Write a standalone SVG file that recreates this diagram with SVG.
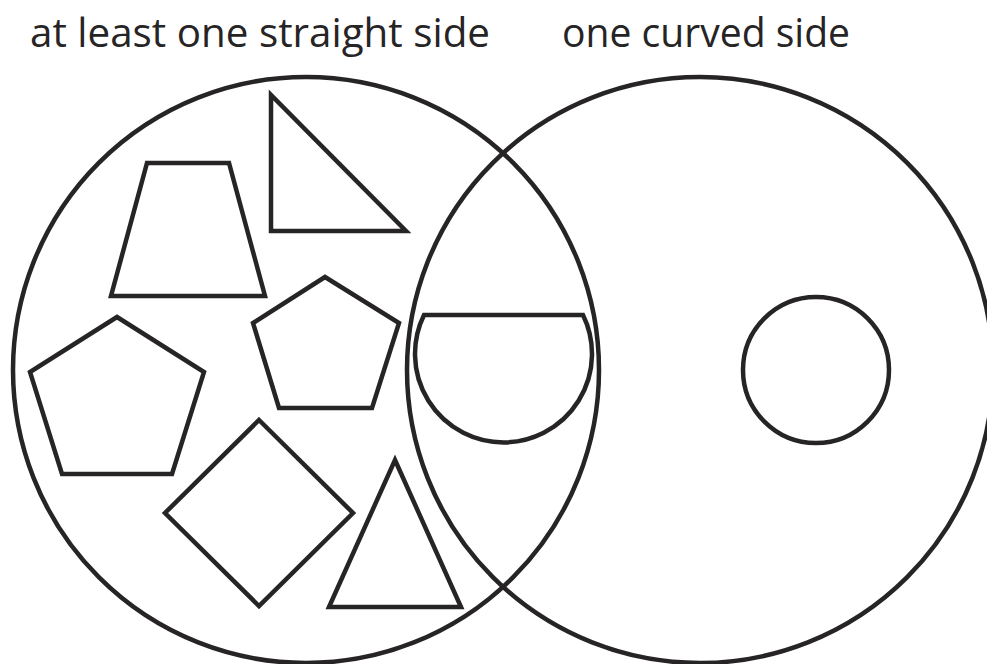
<svg xmlns="http://www.w3.org/2000/svg" width="987" height="664" viewBox="0 0 987 664">
  <style>
    .ln { fill: none; stroke: #262425; stroke-width: 4.5; stroke-linejoin: miter; }
    .lbl { font-family: "Open Sans", "DejaVu Sans", sans-serif; font-size: 41px; fill: #262425; }
  </style>
  <rect width="987" height="664" fill="#ffffff"/>
  <g id="labels">
    <text class="lbl" x="30" y="47" textLength="460" lengthAdjust="spacingAndGlyphs">at least one straight side</text>
    <text class="lbl" x="562" y="47" textLength="288" lengthAdjust="spacingAndGlyphs">one curved side</text>
  </g>
  <g id="set-straight">
    <circle class="ln" cx="306" cy="370" r="293"/>
  </g>
  <g id="set-curved">
    <circle class="ln" cx="700" cy="370" r="293"/>
  </g>
  <g id="trapezoid">
    <polygon class="ln" points="147,163 229,163 265,296 111,296"/>
  </g>
  <g id="right-triangle">
    <polygon class="ln" points="271,95 271,231 406,231"/>
  </g>
  <g id="pentagon-middle">
    <polygon class="ln" points="325,277 399,323 372,408 279,408 253,323"/>
  </g>
  <g id="pentagon-left">
    <polygon class="ln" points="117,317 204,372 172,474 62,474 30,372"/>
  </g>
  <g id="square">
    <polygon class="ln" points="259,420 353,513 259,606 165,513"/>
  </g>
  <g id="isosceles-triangle">
    <polygon class="ln" points="395,460 461,607 329,607"/>
  </g>
  <g id="semicircle">
    <path class="ln" d="M 424,315 L 583,315 A 88.5,88.5 0 1 1 424,315 Z"/>
  </g>
  <g id="circle">
    <circle class="ln" cx="816" cy="370" r="73"/>
  </g>
</svg>
